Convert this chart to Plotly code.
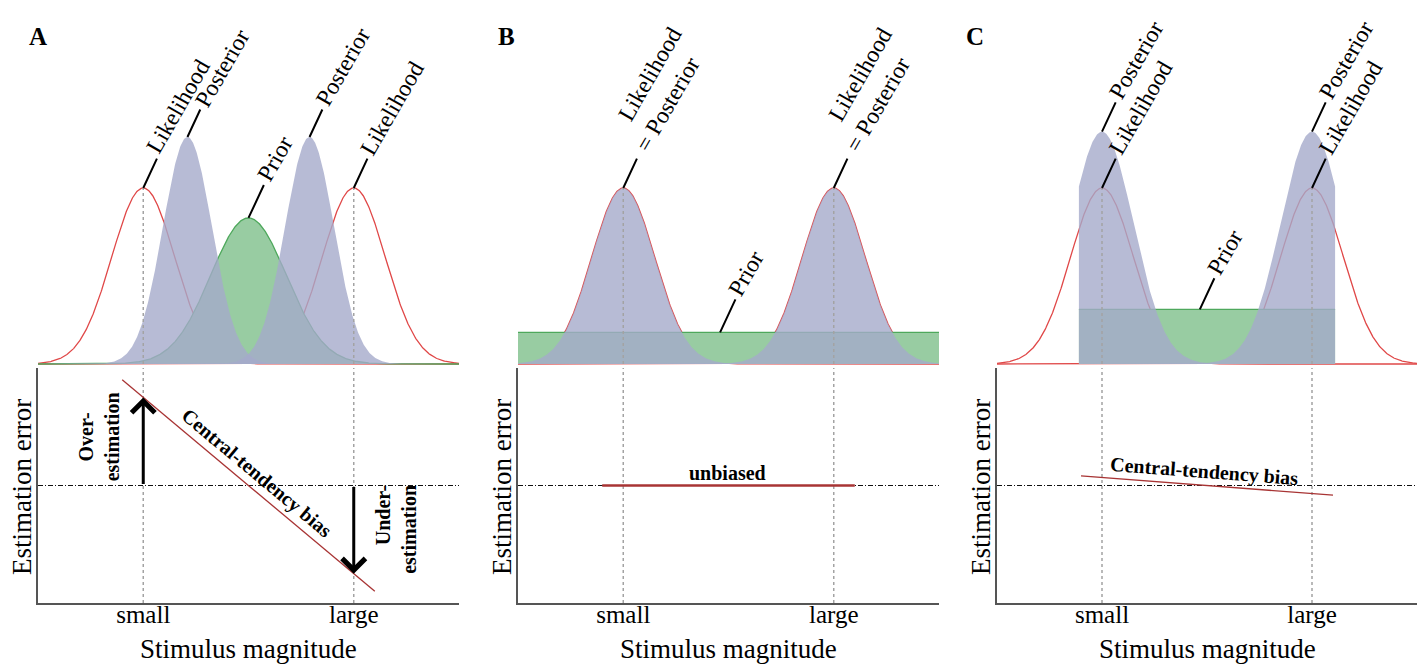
import numpy as np
import plotly.graph_objects as go

# ---------------- data ----------------
# x: stimulus magnitude on a 0..1 scale, y (top): density in units of the likelihood peak
stimulus_ticks = [0.25, 0.75]
stimulus_labels = ["small", "large"]

likelihood_means = [0.25, 0.75]
likelihood_sd = 0.075
likelihood_peak = 1.0

# Panel A: Gaussian prior -> shifted, narrower posteriors
priorA_mean = 0.5
priorA_sd = 0.09
priorA_peak = 0.83
posteriorA_means = [0.355, 0.645]
posteriorA_sd = 0.058
posteriorA_peak = 1.29

# Panel B: flat prior over the whole range
priorB_span = [0.0, 1.0]
priorB_level = 0.18

# Panel C: bounded uniform prior -> truncated posteriors
priorC_span = [0.195, 0.805]
priorC_level = 0.31
posteriorC_peak = 1.32

# Bottom panels: estimation error (y in -1..1)
bias_x = [0.2, 0.8]
biasA_y = [0.9, -0.9]
biasB_y = [0.0, 0.0]
biasC_y = [0.082, -0.082]
arrow_errors = [0.75, -0.75]

# ---------------- styling ----------------
FONT = "Liberation Serif"
LIK = "#e04848"
POST_FILL = "rgba(165,170,202,0.80)"
PRIOR_FILL = "#98cca2"
PRIOR_LINE = "#4ea85c"
BIAS = "#a83434"
DOT = "#a3a3a3"
LABEL_SIZE = 23.5

W, H = 1426, 666
xdom = {"A": (38, 459), "B": (518, 939), "C": (997, 1417)}
top_px = (100, 367.5)     # top, bottom of distribution panels (px from top)
bot_px = (368, 603)       # top, bottom of error panels


def pxdom_x(a, b):
    return [a / W, b / W]


def pxdom_y(top, bottom):
    return [(H - bottom) / H, (H - top) / H]


xg = np.linspace(0, 1, 801)


def gauss(x, m, s, peak):
    return peak * np.exp(-0.5 * ((x - m) / s) ** 2)


fig = go.Figure()


def line(xa, ya, x, y, color, width, dash=None, fill=None, fillcolor=None):
    fig.add_trace(go.Scatter(x=x, y=y, xaxis=xa, yaxis=ya, mode="lines",
                             line=dict(color=color, width=width, dash=dash),
                             fill=fill, fillcolor=fillcolor,
                             hoverinfo="skip", showlegend=False))


# ---------- Panel A top ----------
for m in likelihood_means:
    line("x", "y", xg, gauss(xg, m, likelihood_sd, likelihood_peak), LIK, 1.3)
line("x", "y", xg, gauss(xg, priorA_mean, priorA_sd, priorA_peak), PRIOR_LINE, 1.3,
     fill="tozeroy", fillcolor=PRIOR_FILL)
for m in posteriorA_means:
    line("x", "y", xg, gauss(xg, m, posteriorA_sd, posteriorA_peak), "rgba(0,0,0,0)", 0,
         fill="tozeroy", fillcolor=POST_FILL)

# ---------- Panel B top ----------
for m in likelihood_means:
    line("x2", "y2", xg, gauss(xg, m, likelihood_sd, likelihood_peak), LIK, 1.3)
line("x2", "y2", priorB_span, [priorB_level, priorB_level], PRIOR_LINE, 1.3,
     fill="tozeroy", fillcolor=PRIOR_FILL)
for m in likelihood_means:
    line("x2", "y2", xg, gauss(xg, m, likelihood_sd, likelihood_peak), "rgba(0,0,0,0)", 0,
         fill="tozeroy", fillcolor=POST_FILL)

# ---------- Panel C top ----------
for m in likelihood_means:
    line("x3", "y3", xg, gauss(xg, m, likelihood_sd, likelihood_peak), LIK, 1.3)
line("x3", "y3", priorC_span, [priorC_level, priorC_level], PRIOR_LINE, 1.3,
     fill="tozeroy", fillcolor=PRIOR_FILL)
xc = np.linspace(priorC_span[0], priorC_span[1], 601)
for m in likelihood_means:
    line("x3", "y3", xc, gauss(xc, m, likelihood_sd, posteriorC_peak), "rgba(0,0,0,0)", 0,
         fill="tozeroy", fillcolor=POST_FILL)

# dotted guides in top panels (from baseline to likelihood peak)
for xa, ya in [("x", "y"), ("x2", "y2"), ("x3", "y3")]:
    for t in stimulus_ticks:
        line(xa, ya, [t, t], [0, likelihood_peak], DOT, 1.5, dash="dot")

# ---------- bottom panels ----------
bias_sets = [("x4", "y4", biasA_y, 1.3), ("x5", "y5", biasB_y, 2.6), ("x6", "y6", biasC_y, 1.3)]
for xa, ya, by, bw in bias_sets:
    line(xa, ya, [0, 1], [0, 0], "#111111", 1, dash="5px,2px,1px,2px")
    for t in stimulus_ticks:
        line(xa, ya, [t, t], [-1, 1], DOT, 1.5, dash="dot")
    line(xa, ya, bias_x, by, BIAS, bw)

# ---------- layout ----------
layout = dict(width=W, height=H, margin=dict(l=0, r=0, t=0, b=0, autoexpand=False),
              paper_bgcolor="white", plot_bgcolor="white", showlegend=False,
              font=dict(family=FONT, color="black"))

names = ["A", "B", "C"]
for i, n in enumerate(names):
    a, b = xdom[n]
    ti = "" if i == 0 else str(i + 1)
    bi = str(i + 4)
    layout["xaxis" + ti] = dict(domain=pxdom_x(a, b), range=[0, 1], visible=False,
                                anchor="y" + ti, automargin=False)
    layout["yaxis" + ti] = dict(domain=pxdom_y(*top_px), range=[-0.02, 1.5], visible=False,
                                anchor="x" + ti, automargin=False)
    layout["xaxis" + bi] = dict(domain=pxdom_x(a, b), range=[0, 1], anchor="y" + bi,
                                automargin=False,
                                showline=True, linecolor="#555555", linewidth=1.5,
                                showgrid=False, zeroline=False, ticks="", ticklen=0,
                                ticklabelstandoff=-12,
                                tickvals=stimulus_ticks, ticktext=stimulus_labels,
                                tickfont=dict(size=25, family=FONT, color="black"))
    layout["yaxis" + bi] = dict(domain=pxdom_y(*bot_px), range=[-1, 1], anchor="x" + bi,
                                automargin=False,
                                showline=True, linecolor="#555555", linewidth=1.5,
                                showgrid=False, zeroline=False, ticks="",
                                showticklabels=False)

fig.update_layout(**layout)

annotations = []

# panel letters and axis titles
for n in names:
    a, b = xdom[n]
    annotations.append(dict(xref="paper", yref="paper", x=(a - 11) / W, y=1 - 21 / H,
                            text="<b>%s</b>" % n, showarrow=False,
                            font=dict(size=25, family=FONT, color="black")))
    annotations.append(dict(xref="paper", yref="paper", x=(a + b) / 2 / W, y=1 - 649 / H,
                            text="Stimulus magnitude", showarrow=False,
                            xanchor="center", yanchor="middle",
                            font=dict(size=27, family=FONT, color="black")))
    annotations.append(dict(xref="paper", yref="paper", x=(a - 16) / W, y=1 - 487 / H,
                            text="Estimation error", showarrow=False, textangle=-90,
                            xanchor="center", yanchor="middle",
                            font=dict(size=27, family=FONT, color="black")))

U_T = np.array([np.cos(np.radians(60)), -np.sin(np.radians(60))])   # along text
V_T = np.array([np.sin(np.radians(60)), np.cos(np.radians(60))])    # down the lines


def label(xa, ya, x, y, text, width_em, L=34, phi=65, gap=3, line_shift=4.0):
    """Leader line from (x, y) at angle phi, then text rotated by 60 degrees."""
    lead = L * np.array([np.cos(np.radians(phi)), -np.sin(np.radians(phi))])
    annotations.append(dict(xref=xa, yref=ya, x=x, y=y, text="", showarrow=True,
                            arrowhead=0, arrowwidth=2, arrowcolor="black",
                            ax=lead[0], ay=lead[1]))
    w = width_em * LABEL_SIZE
    c = lead + (gap + w / 2) * U_T - line_shift * V_T
    annotations.append(dict(xref=xa, yref=ya, x=x, y=y, text=text, showarrow=False,
                            xshift=c[0], yshift=-c[1], xanchor="center", yanchor="middle",
                            textangle=-60, align="left",
                            font=dict(size=LABEL_SIZE, family=FONT, color="black")))


EM_LIK, EM_POST, EM_PRIOR, EM_EQ = 4.389, 3.611, 2.0, 5.139
# Panel A
label("x", "y", likelihood_means[0], likelihood_peak, "Likelihood", EM_LIK, line_shift=8)
label("x", "y", posteriorA_means[0], posteriorA_peak, "Posterior", EM_POST, L=32, line_shift=2)
label("x", "y", priorA_mean, priorA_peak, "Prior", EM_PRIOR, L=38)
label("x", "y", posteriorA_means[1], posteriorA_peak, "Posterior", EM_POST, L=32)
label("x", "y", likelihood_means[1], likelihood_peak, "Likelihood", EM_LIK)
# Panel B
for m in likelihood_means:
    label("x2", "y2", m, likelihood_peak, "\u00a0\u00a0\u00a0Likelihood<br>= Posterior", EM_EQ,
          L=34, gap=9, line_shift=16)
label("x2", "y2", 0.48, priorB_level, "Prior", EM_PRIOR, L=38)
# Panel C
for m in likelihood_means:
    label("x3", "y3", m, posteriorC_peak, "Posterior", EM_POST, L=34)
    label("x3", "y3", m, likelihood_peak, "Likelihood", EM_LIK, L=34)
label("x3", "y3", 0.483, priorC_level, "Prior", EM_PRIOR, L=36)

# bottom panel A arrows and labels
for t, e in zip(stimulus_ticks, arrow_errors):
    annotations.append(dict(xref="x4", yref="y4", x=t, y=e, axref="x4", ayref="y4",
                            ax=t, ay=0, text="", showarrow=True, arrowhead=4,
                            arrowsize=1.5, arrowwidth=3, arrowcolor="black"))

bold = dict(size=20, family=FONT, color="black")
annotations.append(dict(xref="x4", yref="y4", x=0.145, y=0.41, text="<b>Over-<br>estimation</b>",
                        showarrow=False, textangle=-90, align="center", font=bold))
annotations.append(dict(xref="x4", yref="y4", x=0.85, y=-0.37, text="<b>Under-<br>estimation</b>",
                        showarrow=False, textangle=-90, align="right", font=bold))
annotations.append(dict(xref="x4", yref="y4", x=0.52, y=0.098, text="<b>Central-tendency bias</b>",
                        showarrow=False, textangle=39.8, font=bold))
annotations.append(dict(xref="x5", yref="y5", x=0.497, y=0.11, text="<b>unbiased</b>",
                        showarrow=False, font=bold))
annotations.append(dict(xref="x6", yref="y6", x=0.495, y=0.115, text="<b>Central-tendency bias</b>",
                        showarrow=False, textangle=4.3, font=bold))

fig.update_layout(annotations=annotations)
# the page's default 8px body margin would shift the figure; remove it
fig.write_html("out.html", config={"displayModeBar": False},
               post_script="document.body.style.margin='0px';")
